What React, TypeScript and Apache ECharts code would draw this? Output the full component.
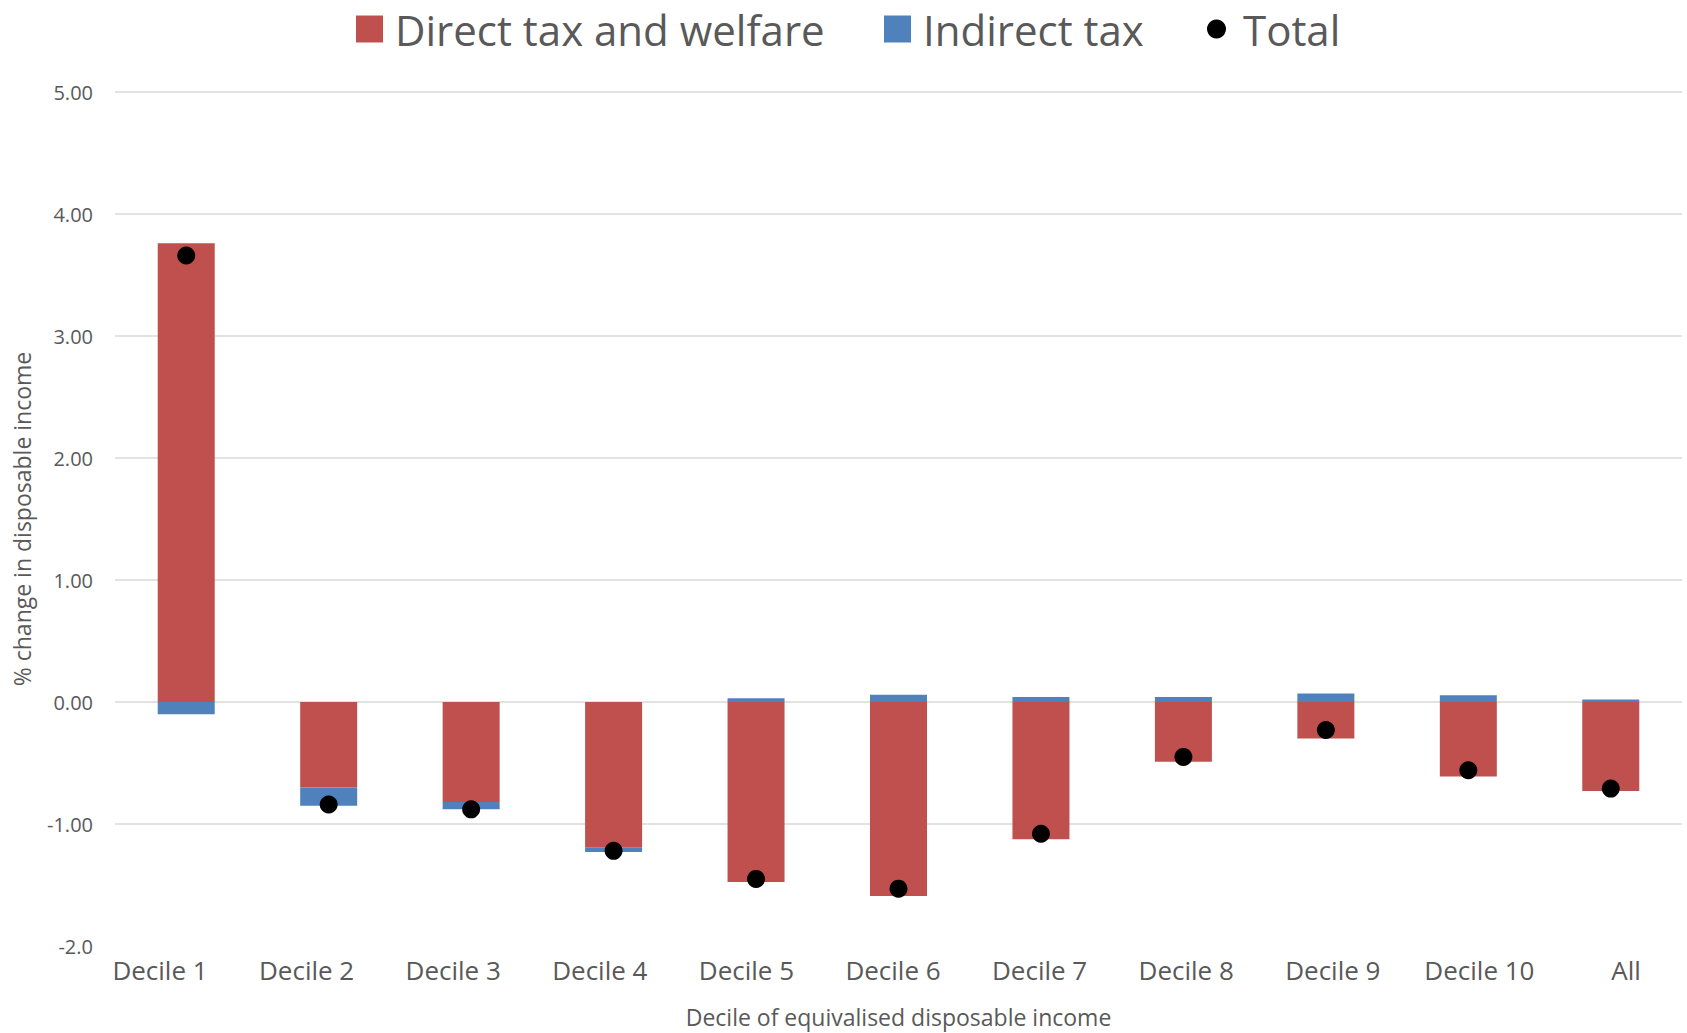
import React, { useEffect, useRef } from "react";
import * as echarts from "echarts";

const categories = ["Decile 1", "Decile 2", "Decile 3", "Decile 4", "Decile 5", "Decile 6", "Decile 7", "Decile 8", "Decile 9", "Decile 10", "All"];
const directTaxWelfare = [3.76, -0.70, -0.82, -1.19, -1.475, -1.59, -1.125, -0.49, -0.30, -0.61, -0.73];
const indirectTax = [-0.10, -0.15, -0.06, -0.04, 0.03, 0.06, 0.04, 0.04, 0.07, 0.055, 0.02];
const total = [3.66, -0.84, -0.88, -1.22, -1.45, -1.53, -1.08, -0.45, -0.23, -0.56, -0.71];

const seriesNames = ["Direct tax and welfare", "Indirect tax", "Total"];
const yTitle = "% change in disposable income";
const xTitle = "Decile of equivalised disposable income";

const FONT = "'Open Sans', 'Noto Sans', sans-serif";
const TEXT = "#595959";

export default function App() {
  const ref = useRef<HTMLDivElement>(null);
  useEffect(() => {
    document.body.style.margin = "0";
    const chart = echarts.init(ref.current!, null, { renderer: "svg" });
    const gridColors = ["rgba(0,0,0,0)", "#d9d9d9", "#d9d9d9", "#d9d9d9", "#d9d9d9", "#d9d9d9", "#d9d9d9", "#d9d9d9"];
    const legendBase = {
      orient: "horizontal" as const,
      top: 6,
      padding: 0,
      itemWidth: 27,
      itemHeight: 27,
      textStyle: { fontFamily: FONT, fontSize: 42, lineHeight: 46, color: TEXT, padding: [0, 0, 0, 7] },
      selectedMode: false,
    };
    chart.setOption({
      animation: false,
      backgroundColor: "#ffffff",
      textStyle: { fontFamily: FONT },
      legend: [
        { ...legendBase, left: 356, data: [{ name: seriesNames[0], icon: "rect" }] },
        { ...legendBase, left: 884, data: [{ name: seriesNames[1], icon: "rect" }] },
        {
          ...legendBase,
          left: 1207,
          itemWidth: 19,
          itemHeight: 19,
          textStyle: { ...legendBase.textStyle, padding: [0, 0, 0, 12] },
          data: [{ name: seriesNames[2], icon: "circle" }],
        },
      ],
      grid: [
        { left: 115, right: 5, top: 92, bottom: 81, containLabel: false },
        { left: 160, right: 61, top: 92, bottom: 81, containLabel: false },
      ],
      xAxis: [
        {
          type: "category",
          gridIndex: 0,
          data: categories,
          axisLine: { show: false },
          axisTick: { show: false },
          axisLabel: { show: false },
          name: xTitle,
          nameLocation: "middle",
          nameGap: 59,
          nameTextStyle: { fontFamily: FONT, fontSize: 23, color: TEXT },
        },
        {
          type: "category",
          gridIndex: 1,
          data: categories,
          boundaryGap: false,
          axisLine: { show: false },
          axisTick: { show: false },
          splitLine: { show: false },
          axisLabel: { show: true, margin: 5, fontFamily: FONT, fontSize: 26, color: TEXT, interval: 0 },
        },
      ],
      yAxis: [
        {
          type: "value",
          gridIndex: 0,
          min: -2,
          max: 5,
          interval: 1,
          axisLine: { show: false },
          axisTick: { show: false },
          splitLine: { show: true, lineStyle: { color: gridColors, width: 1.5 } },
          axisLabel: {
            margin: 22,
            fontFamily: FONT,
            fontSize: 20,
            color: TEXT,
            formatter: (v: number) => (v === -2 ? "-2.0" : v.toFixed(2)),
          },
          name: yTitle,
          nameLocation: "middle",
          nameGap: 82,
          nameTextStyle: { fontFamily: FONT, fontSize: 23, color: TEXT },
        },
        { type: "value", gridIndex: 1, min: -2, max: 5, show: false },
      ],
      series: [
        {
          name: seriesNames[0],
          type: "bar",
          stack: "effect",
          xAxisIndex: 0,
          yAxisIndex: 0,
          barWidth: 57,
          itemStyle: { color: "#C0504D" },
          data: directTaxWelfare,
        },
        {
          name: seriesNames[1],
          type: "bar",
          stack: "effect",
          xAxisIndex: 0,
          yAxisIndex: 0,
          barWidth: 57,
          itemStyle: { color: "#4F81BD" },
          data: indirectTax,
        },
        {
          name: seriesNames[2],
          type: "scatter",
          xAxisIndex: 0,
          yAxisIndex: 0,
          symbol: "circle",
          symbolSize: 18,
          z: 5,
          itemStyle: { color: "#000000", opacity: 1 },
          data: total,
        },
      ],
    });
    return () => chart.dispose();
  }, []);
  return <div ref={ref} style={{ width: 1687, height: 1033 }} />;
}
